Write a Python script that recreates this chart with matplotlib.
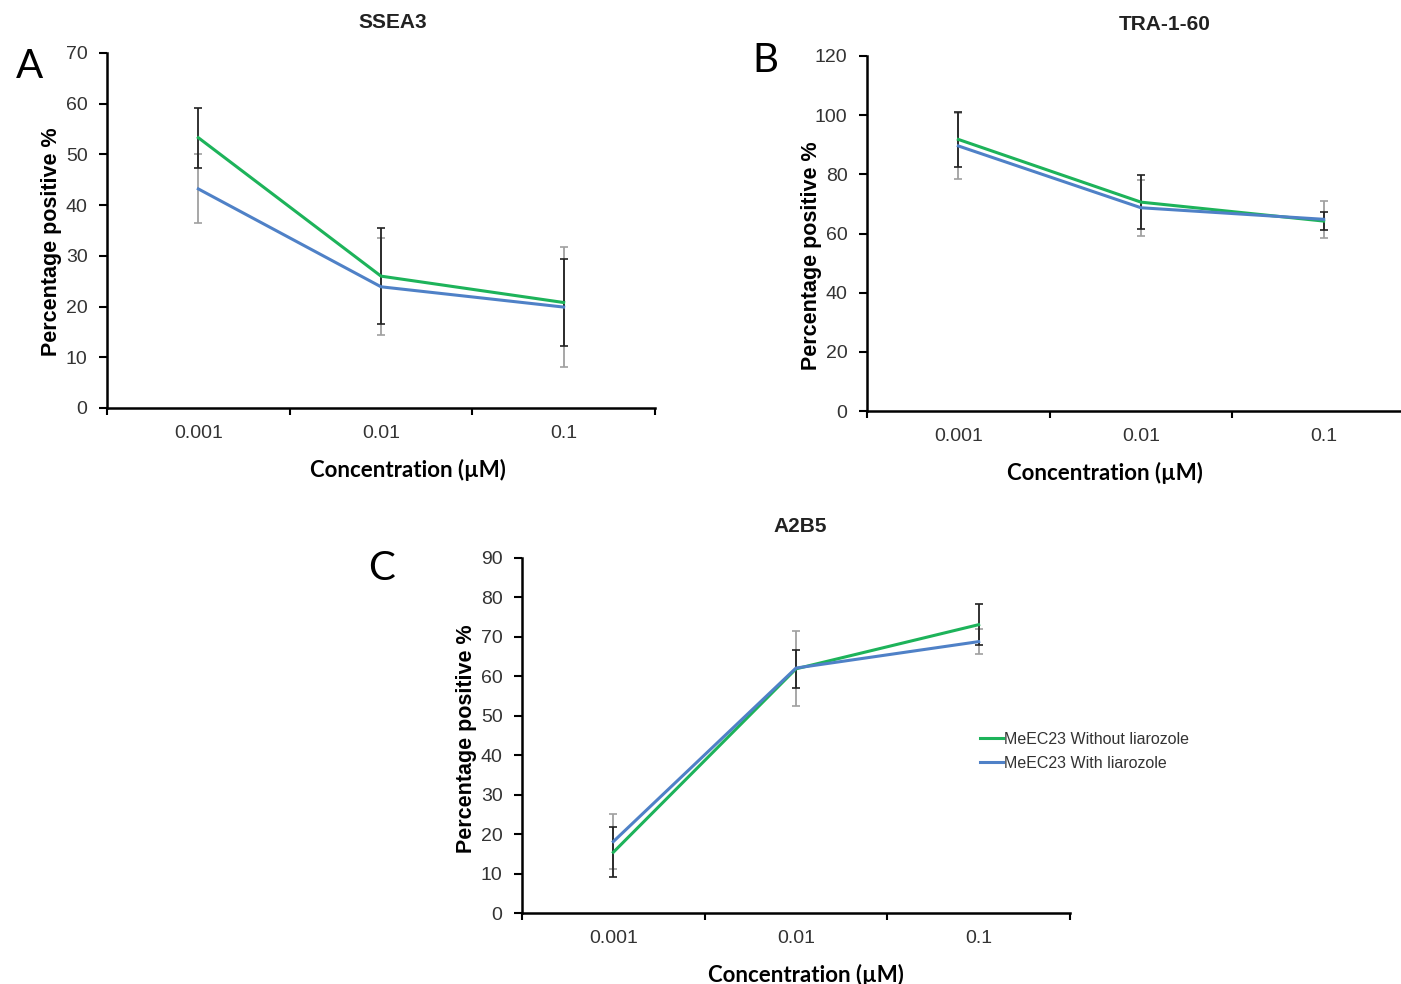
import matplotlib
matplotlib.use("Agg")
import matplotlib.pyplot as plt
import numpy as np

# data
conc = ['0.001', '0.01', '0.1']

ssea3_without = [53.3, 26.0, 20.8]
ssea3_without_err = [5.9, 9.4, 8.6]
ssea3_with = [43.2, 23.9, 19.9]
ssea3_with_err = [6.8, 9.6, 11.9]

tra_without = [91.8, 70.6, 64.2]
tra_without_err = [9.4, 9.1, 2.9]
tra_with = [89.6, 68.7, 64.8]
tra_with_err = [11.3, 9.5, 6.3]

a2b5_without = [15.4, 61.9, 73.1]
a2b5_without_err = [6.3, 4.9, 5.2]
a2b5_with = [18.1, 62.1, 68.8]
a2b5_with_err = [7.0, 9.5, 3.1]

green = '#1db35a'
blue = '#4f81c7'
W, H = 1401, 984

plt.rcParams['font.family'] = ['Liberation Sans', 'DejaVu Sans']

fig = plt.figure(figsize=(W / 100, H / 100), dpi=100)


def panel(left, top, right, bottom, title, ymax, ystep, s1, e1, s2, e2, letter, lxy,
          tx, xlx, yly, legend=False):
    ax = fig.add_axes([left / W, 1 - bottom / H, (right - left) / W, (bottom - top) / H])
    x = np.arange(len(conc))
    ax.errorbar(x, s2, yerr=e2, fmt='none', ecolor='#a0a0a0', elinewidth=1.3, capsize=3, capthick=1.2)
    ax.errorbar(x, s1, yerr=e1, fmt='none', ecolor='#222222', elinewidth=1.3, capsize=3, capthick=1.2)
    ax.plot(x, s1, color=green, lw=2.2, label='MeEC23 Without liarozole')
    ax.plot(x, s2, color=blue, lw=2.2, label='MeEC23 With liarozole')
    ax.set_xlim(-0.5, 2.5)
    ax.set_ylim(0, ymax)
    ax.set_yticks(np.arange(0, ymax + 1, ystep))
    ax.set_xticks([-0.5, 0.5, 1.5, 2.5])
    ax.set_xticklabels([])
    ax.set_xticks(x, minor=True)
    ax.set_xticklabels(conc, minor=True)
    ax.tick_params(axis='x', which='minor', length=0, pad=12, labelsize=14, colors='#333333')
    ax.tick_params(axis='x', which='major', length=5, width=1.5, direction='out')
    ax.tick_params(axis='y', length=6, width=1.5, pad=8, labelsize=14, labelcolor='#333333')
    for s in ['top', 'right']:
        ax.spines[s].set_visible(False)
    for s in ['left', 'bottom']:
        ax.spines[s].set_linewidth(1.8)
    ax.text(tx, 1 + 31 / 355, title, transform=ax.transAxes, fontsize=15, fontweight='bold',
            ha='center', va='center', color='#222222')
    ax.set_xlabel('Concentration (µM)', family=['Lato', 'DejaVu Sans'], fontweight='bold', fontsize=16)
    ax.xaxis.set_label_coords(xlx, -62 / 355)
    ax.xaxis.label.set_va('center')
    ax.set_ylabel('Percentage positive %', fontsize=15.5, fontweight='bold')
    ax.yaxis.set_label_coords(-0.102, yly)
    ax.yaxis.label.set_va('center')
    fig.text(lxy[0] / W, 1 - lxy[1] / H, letter, family=['Lato', 'DejaVu Sans'], fontsize=29,
             ha='center', va='center')
    if legend:
        ax.legend(loc='center left', bbox_to_anchor=(0.81, 0.455), frameon=False, fontsize=11.5,
                  handlelength=1.4, handletextpad=0.1, labelspacing=0.55, labelcolor='#333333')
    return ax


panel(107, 53, 655, 408, 'SSEA3', 70, 10, ssea3_without, ssea3_without_err,
      ssea3_with, ssea3_with_err, 'A', (29, 66), 0.522, 0.549, 0.468)
panel(867, 56, 1415, 411, 'TRA-1-60', 120, 20, tra_without, tra_without_err,
      tra_with, tra_with_err, 'B', (765, 61), 0.544, 0.434, 0.437)
panel(522, 558, 1070, 913, 'A2B5', 90, 10, a2b5_without, a2b5_without_err,
      a2b5_with, a2b5_with_err, 'C', (382, 569), 0.507, 0.518, 0.49, legend=True)

fig.savefig('out.png', dpi=100)
